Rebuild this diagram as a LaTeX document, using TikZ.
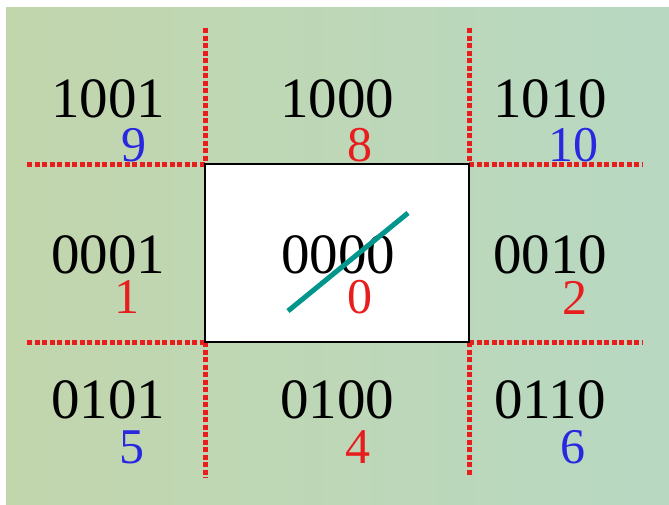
\documentclass[tikz,border=0pt]{standalone}
\usepackage{fontspec}
\setmainfont{Liberation Serif}
\definecolor{bgA}{RGB}{194,214,172}
\definecolor{bgB}{RGB}{184,216,194}
\definecolor{redd}{RGB}{232,30,30}
\definecolor{bluu}{RGB}{40,40,225}
\definecolor{tealln}{RGB}{0,150,140}
\tikzset{
  code/.style={font=\fontsize{57}{60}\selectfont, text=black, inner sep=0pt},
  numr/.style={font=\fontsize{50}{52}\selectfont, text=redd, inner sep=0pt},
  numb/.style={font=\fontsize{50}{52}\selectfont, text=bluu, inner sep=0pt},
  redline/.style={draw=redd, line width=5pt, dash pattern=on 5pt off 2.5pt},
}
\begin{document}
\begin{tikzpicture}[x=1pt,y=-1pt]
\useasboundingbox (0,0) rectangle (669,504);
\fill[white] (0,0) rectangle (669,504);
\shade[left color=bgA, right color=bgB] (6,7) rectangle (669,504);
% rectangle corners
\coordinate (tl) at (205,164);
\coordinate (br) at (469,342);
\coordinate (tr) at (469,164);
\coordinate (bl) at (205,342);
\coordinate (vtl) at (205,28);
\coordinate (vtr) at (469,28);
\coordinate (vbl) at (205,478);
\coordinate (vbr) at (469,476);
\coordinate (hlt) at (27,164);
\coordinate (hrt) at (643,164);
\coordinate (hlb) at (27,342);
\coordinate (hrb) at (643,342);
\draw[redline] (vtl) -- (tl);
\draw[redline] (vtr) -- (tr);
\draw[redline] (bl) -- (vbl);
\draw[redline] (br) -- (vbr);
\draw[redline] (hlt) -- (tl);
\draw[redline] (tr) -- (hrt);
\draw[redline] (hlb) -- (bl);
\draw[redline] (br) -- (hrb);
\filldraw[fill=white, draw=black, line width=1.3pt] (tl) rectangle (br);
% codes
\node[code] (c9) at (108,99) {1001};
\node[code] (c8) at (337,99) {1000};
\node[code] (c10) at (550,99) {1010};
\node[code] (c1) at (108,255) {0001};
\node[code] (c0) at (338,255) {0000};
\node[code] (c2) at (550,255) {0010};
\node[code] (c5) at (108,400) {0101};
\node[code] (c4) at (337,400) {0100};
\node[code] (c6) at (550,400) {0110};
% numbers
\node[numb] (n9) at (134,145) {9};
\node[numr] (n8) at (360,145) {8};
\node[numb] (n10) at (573,145) {10};
\node[numr] (n1) at (127,297) {1};
\node[numr] (n0) at (360,297) {0};
\node[numr] (n2) at (575,298) {2};
\node[numb] (n5) at (132,447) {5};
\node[numr] (n4) at (358,447) {4};
\node[numb] (n6) at (573,447) {6};
% teal segment
\coordinate (sa) at (288,311);
\coordinate (sb) at (408,213);
\draw[tealln, line width=5pt] (sa) -- (sb);
\end{tikzpicture}
\end{document}
